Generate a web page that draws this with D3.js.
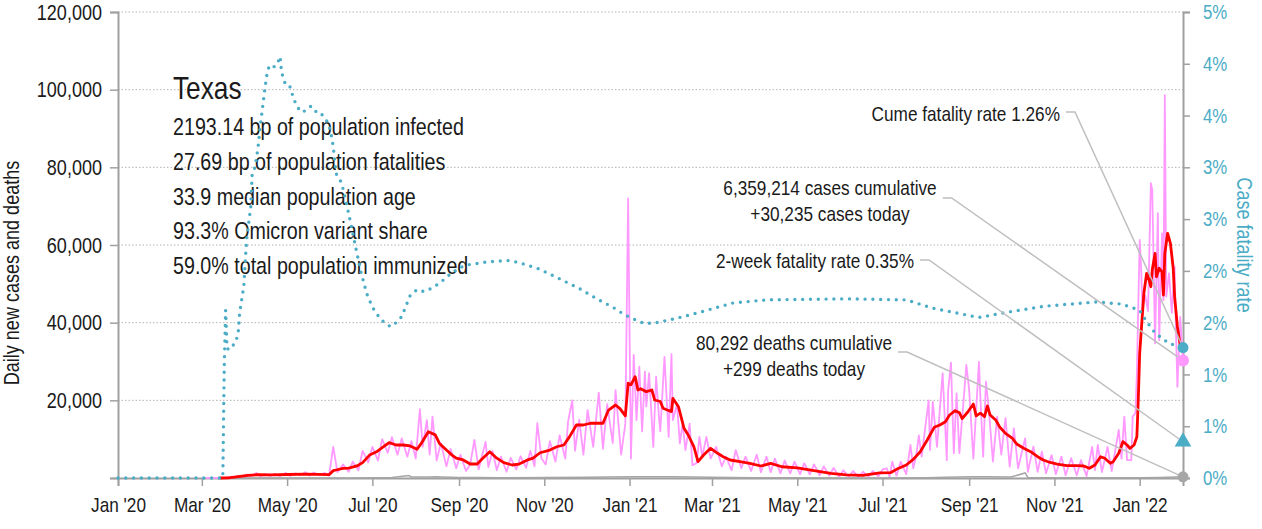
<!DOCTYPE html>
<html>
<head>
<meta charset="utf-8">
<script src="https://cdn.jsdelivr.net/npm/d3@7"></script>
<style>
  body { margin: 0; background: #fff; }
  svg text { font-family: "Liberation Sans", Arial, sans-serif; fill: #1a1a1a; }
</style>
</head>
<body>
<svg id="chart" width="1262" height="529"></svg>
<script>
// ---- data ----
const caseTicks = [0, 20000, 40000, 60000, 80000, 100000, 120000];
const rateTicks = [0, 0.5, 1, 1.5, 2, 2.5, 3, 3.5, 4, 4.5];

const stateName = "Texas";
const statLines = [
  "2193.14 bp of population infected",
  "27.69 bp of population fatalities",
  "33.9 median population age",
  "93.3% Omicron variant share",
  "59.0% total population immunized",
];

// daily new cases (pink)
const dailyCases = [
  ["2020-03-04",0],["2020-03-10",10],["2020-03-14",20],["2020-03-18",60],["2020-03-21",200],
  ["2020-03-24",150],["2020-03-27",500],["2020-03-30",350],["2020-04-02",900],["2020-04-05",500],
  ["2020-04-09",1300],["2020-04-12",450],["2020-04-15",1000],["2020-04-19",550],["2020-04-22",1100],
  ["2020-04-26",500],["2020-04-30",1300],["2020-05-03",550],["2020-05-07",1200],["2020-05-10",700],
  ["2020-05-14",1500],["2020-05-17",600],["2020-05-20",1400],["2020-05-24",700],["2020-05-28",1300],
  ["2020-05-31",600],["2020-06-03",8000],["2020-06-06",1500],["2020-06-10",3500],["2020-06-14",1600],
  ["2020-06-17",4200],["2020-06-21",2000],["2020-06-24",7000],["2020-06-28",4000],["2020-07-01",8000],
  ["2020-07-05",4500],["2020-07-08",10000],["2020-07-12",6500],["2020-07-15",10500],["2020-07-19",6000],
  ["2020-07-22",10200],["2020-07-26",5500],["2020-07-29",9500],["2020-08-01",5000],["2020-08-04",17700],
  ["2020-08-06",8000],["2020-08-09",14900],["2020-08-11",6000],["2020-08-13",15800],["2020-08-16",4500],
  ["2020-08-19",9000],["2020-08-23",3000],["2020-08-26",7500],["2020-08-30",2500],["2020-09-02",6000],
  ["2020-09-06",1800],["2020-09-09",3500],["2020-09-12",9800],["2020-09-15",2200],["2020-09-20",9300],
  ["2020-09-22",2800],["2020-09-25",7000],["2020-09-28",2000],["2020-10-01",5500],["2020-10-05",1600],
  ["2020-10-08",5200],["2020-10-12",2200],["2020-10-15",5600],["2020-10-19",2600],["2020-10-22",7000],
  ["2020-10-25",3000],["2020-10-27",14100],["2020-10-30",5000],["2020-11-02",3500],["2020-11-05",9500],
  ["2020-11-09",4200],["2020-11-12",11000],["2020-11-16",5000],["2020-11-18",14500],["2020-11-21",20000],
  ["2020-11-23",7000],["2020-11-26",15000],["2020-11-29",6000],["2020-12-02",17500],["2020-12-06",8000],
  ["2020-12-10",22000],["2020-12-13",7500],["2020-12-16",19000],["2020-12-20",9000],["2020-12-22",22600],
  ["2020-12-26",6000],["2020-12-29",14000],["2020-12-31",72000],["2021-01-02",5000],["2021-01-04",31700],
  ["2021-01-06",14900],["2021-01-08",28700],["2021-01-10",12000],["2021-01-12",27400],["2021-01-13",18400],
  ["2021-01-15",27000],["2021-01-18",8000],["2021-01-20",26100],["2021-01-22",16000],["2021-01-23",12000],
  ["2021-01-26",31200],["2021-01-29",10600],["2021-01-31",31900],["2021-02-01",14900],["2021-02-04",19000],
  ["2021-02-06",8900],["2021-02-08",14100],["2021-02-10",7200],["2021-02-13",14000],["2021-02-15",3300],
  ["2021-02-18",3800],["2021-02-20",10600],["2021-02-22",5500],["2021-02-25",10600],["2021-02-28",5000],
  ["2021-03-04",8000],["2021-03-08",3000],["2021-03-11",5500],["2021-03-15",2000],["2021-03-18",7200],
  ["2021-03-22",2500],["2021-03-25",5500],["2021-03-29",1800],["2021-04-02",6000],["2021-04-05",1500],
  ["2021-04-09",5500],["2021-04-12",1500],["2021-04-15",5000],["2021-04-19",1200],["2021-04-22",4500],
  ["2021-04-26",1200],["2021-04-29",4200],["2021-05-03",1000],["2021-05-06",3800],["2021-05-10",900],
  ["2021-05-13",3500],["2021-05-17",700],["2021-05-20",3000],["2021-05-24",600],["2021-05-27",2600],
  ["2021-05-31",300],["2021-06-03",2000],["2021-06-07",300],["2021-06-10",1800],["2021-06-14",300],
  ["2021-06-17",1600],["2021-06-21",300],["2021-06-24",1800],["2021-06-28",400],["2021-07-01",2200],
  ["2021-07-04",2500],["2021-07-06",300],["2021-07-08",4200],["2021-07-11",600],["2021-07-14",4200],
  ["2021-07-18",1000],["2021-07-21",8500],["2021-07-23",2500],["2021-07-25",5500],["2021-07-27",11000],
  ["2021-07-29",5500],["2021-08-03",20000],["2021-08-04",7200],["2021-08-06",19600],["2021-08-09",8000],
  ["2021-08-13",27000],["2021-08-16",4600],["2021-08-17",22700],["2021-08-19",29700],["2021-08-21",6400],
  ["2021-08-23",21800],["2021-08-25",6400],["2021-08-30",29100],["2021-09-01",22700],["2021-09-04",5000],
  ["2021-09-08",29900],["2021-09-09",21000],["2021-09-11",5500],["2021-09-13",24800],["2021-09-15",18000],
  ["2021-09-18",4200],["2021-09-21",15800],["2021-09-24",6000],["2021-09-27",15400],["2021-09-30",2900],
  ["2021-10-03",12800],["2021-10-06",2500],["2021-10-11",10200],["2021-10-13",1600],["2021-10-17",8100],
  ["2021-10-20",1600],["2021-10-23",6800],["2021-10-26",1200],["2021-10-30",5900],["2021-11-02",1000],
  ["2021-11-06",5500],["2021-11-09",700],["2021-11-13",5100],["2021-11-17",700],["2021-11-20",4600],
  ["2021-11-24",500],["2021-11-28",8000],["2021-11-30",2000],["2021-12-02",8500],["2021-12-05",1500],
  ["2021-12-09",8000],["2021-12-12",1800],["2021-12-16",10200],["2021-12-17",12400],["2021-12-19",5000],
  ["2021-12-21",15800],["2021-12-23",4600],["2021-12-26",4600],["2021-12-27",15800],["2021-12-29",16700],
  ["2021-12-30",27000],["2022-01-01",61300],["2022-01-02",54400],["2022-01-03",43300],["2022-01-05",47000],
  ["2022-01-07",43000],["2022-01-09",75900],["2022-01-10",74200],["2022-01-12",34700],["2022-01-14",68200],
  ["2022-01-15",35500],["2022-01-17",63000],["2022-01-18",45800],["2022-01-19",98600],["2022-01-20",46700],
  ["2022-01-22",52700],["2022-01-24",42500],["2022-01-26",54400],["2022-01-27",37300],["2022-01-28",23500],
  ["2022-01-30",41500],["2022-02-01",30235],
];

// 7-day average of cases (red)
const avgCases = [
  ["2020-03-14",0],["2020-03-20",40],["2020-03-27",350],["2020-04-03",700],["2020-04-10",850],
  ["2020-04-20",800],["2020-05-01",900],["2020-05-15",1000],["2020-05-31",850],["2020-06-03",1900],
  ["2020-06-05",2060],["2020-06-10",2500],["2020-06-14",2550],["2020-06-20",3100],["2020-06-24",3950],
  ["2020-06-29",5900],["2020-07-04",6750],["2020-07-09",8050],["2020-07-13",9100],["2020-07-18",8500],
  ["2020-07-23",8500],["2020-07-28",8250],["2020-08-02",7400],["2020-08-05",8900],["2020-08-10",11900],
  ["2020-08-15",11100],["2020-08-18",8900],["2020-08-23",7200],["2020-08-27",5900],["2020-08-30",5100],
  ["2020-09-04",4650],["2020-09-09",3600],["2020-09-14",3600],["2020-09-18",5100],["2020-09-23",6750],
  ["2020-09-28",5100],["2020-10-03",3950],["2020-10-09",3350],["2020-10-14",3600],["2020-10-20",4650],
  ["2020-10-24",5100],["2020-10-29",6500],["2020-11-05",7200],["2020-11-10",8050],["2020-11-15",8500],
  ["2020-11-19",10600],["2020-11-24",13650],["2020-11-29",13650],["2020-12-04",14100],["2020-12-08",14100],
  ["2020-12-13",14100],["2020-12-17",17500],["2020-12-22",18800],["2020-12-25",17950],["2020-12-29",16000],
  ["2020-12-31",24400],["2021-01-02",24000],["2021-01-05",26100],["2021-01-07",22660],["2021-01-09",23000],
  ["2021-01-13",22230],["2021-01-17",22660],["2021-01-19",20085],["2021-01-23",19700],["2021-01-25",17950],
  ["2021-01-28",17500],["2021-01-31",17100],["2021-02-01",20520],["2021-02-05",18360],["2021-02-09",12800],
  ["2021-02-12",11070],["2021-02-16",8060],["2021-02-19",4200],["2021-02-23",5920],["2021-02-28",7650],
  ["2021-03-05",6360],["2021-03-09",5490],["2021-03-14",4635],["2021-03-21",4200],["2021-03-28",3785],
  ["2021-04-05",3090],["2021-04-12",3785],["2021-04-20",2900],["2021-05-01",2600],["2021-05-13",1900],
  ["2021-05-25",1200],["2021-06-05",800],["2021-06-17",700],["2021-06-29",1300],["2021-07-07",1400],
  ["2021-07-11",2230],["2021-07-18",3350],["2021-07-23",4800],["2021-07-28",6770],["2021-08-02",9785],
  ["2021-08-07",13050],["2021-08-11",13650],["2021-08-15",14500],["2021-08-18",16220],["2021-08-22",17340],
  ["2021-08-25",16820],["2021-08-27",15300],["2021-08-31",17000],["2021-09-04",19050],["2021-09-06",16000],
  ["2021-09-09",16700],["2021-09-12",15800],["2021-09-14",18540],["2021-09-16",16220],["2021-09-20",14935],
  ["2021-09-23",13050],["2021-09-27",11500],["2021-10-02",10200],["2021-10-05",8755],["2021-10-10",7650],
  ["2021-10-15",6770],["2021-10-20",5490],["2021-10-24",4635],["2021-10-29",4000],["2021-11-03",3600],
  ["2021-11-10",3170],["2021-11-17",3170],["2021-11-22",3090],["2021-11-26",2500],["2021-11-30",3350],
  ["2021-12-04",5490],["2021-12-07",5070],["2021-12-11",3785],["2021-12-13",4200],["2021-12-17",6360],
  ["2021-12-20",9350],["2021-12-23",8500],["2021-12-25",7650],["2021-12-28",8500],["2021-12-30",10630],
  ["2021-12-31",20085],["2022-01-01",32110],["2022-01-03",42400],["2022-01-04",47560],["2022-01-06",52710],
  ["2022-01-07",51830],["2022-01-09",49260],["2022-01-10",53560],["2022-01-12",57860],["2022-01-13",51830],
  ["2022-01-15",54000],["2022-01-17",53100],["2022-01-18",47120],["2022-01-19",57860],["2022-01-21",63010],
  ["2022-01-23",60440],["2022-01-25",54000],["2022-01-26",46690],["2022-01-28",38960],["2022-01-30",34250],
  ["2022-02-01",33500],
];

// daily deaths (grey, hugs the baseline)
const dailyDeaths = [
  ["2020-03-15",0],["2020-04-15",30],["2020-05-15",30],["2020-06-15",30],["2020-07-01",50],
  ["2020-07-15",150],["2020-07-27",650],["2020-07-29",250],["2020-08-10",250],["2020-08-15",300],
  ["2020-09-01",150],["2020-09-15",100],["2020-10-01",80],["2020-11-01",100],["2020-12-01",200],
  ["2020-12-15",250],["2021-01-01",300],["2021-01-15",350],["2021-02-01",350],["2021-02-15",250],
  ["2021-03-01",200],["2021-03-15",150],["2021-04-01",80],["2021-05-01",50],["2021-06-01",30],
  ["2021-07-01",30],["2021-08-01",80],["2021-08-15",200],["2021-09-01",300],["2021-09-15",350],
  ["2021-10-01",250],["2021-10-11",1300],["2021-10-13",150],["2021-11-01",80],["2021-12-01",60],
  ["2022-01-01",50],["2022-01-15",150],["2022-02-01",299],
];

// cumulative case fatality rate, % (teal dotted, right axis)
const fatalityRate = [
  ["2020-01-01",0],["2020-03-16",0],["2020-03-17",1.06],["2020-03-18",1.62],["2020-03-19",1.25],
  ["2020-03-21",1.24],["2020-03-23",1.28],["2020-03-25",1.30],["2020-03-27",1.40],["2020-03-28",1.59],
  ["2020-03-31",1.85],["2020-04-02",2.30],["2020-04-05",2.62],["2020-04-06",2.94],["2020-04-08",3.00],
  ["2020-04-10",3.17],["2020-04-12",3.42],["2020-04-15",3.75],["2020-04-17",3.94],["2020-04-19",3.99],
  ["2020-04-22",3.97],["2020-04-24",4.00],["2020-04-26",4.07],["2020-04-27",3.92],["2020-04-30",3.79],
  ["2020-05-03",3.78],["2020-05-06",3.65],["2020-05-09",3.57],["2020-05-12",3.53],["2020-05-16",3.57],
  ["2020-05-18",3.59],["2020-05-21",3.54],["2020-05-24",3.54],["2020-05-29",3.46],["2020-06-01",3.36],
  ["2020-06-03",3.20],["2020-06-05",2.94],["2020-06-09",2.85],["2020-06-12",2.68],["2020-06-16",2.43],
  ["2020-06-19",2.23],["2020-06-23",1.98],["2020-06-27",1.78],["2020-07-01",1.65],["2020-07-07",1.53],
  ["2020-07-14",1.46],["2020-07-19",1.51],["2020-07-22",1.56],["2020-07-28",1.76],["2020-08-02",1.82],
  ["2020-08-07",1.80],["2020-08-12",1.83],["2020-08-18",1.88],["2020-08-25",1.96],["2020-09-01",2.03],
  ["2020-09-08",2.06],["2020-09-23",2.09],["2020-10-07",2.10],["2020-10-14",2.08],["2020-10-28",2.02],
  ["2020-11-11",1.93],["2020-11-26",1.83],["2020-12-10",1.72],["2020-12-20",1.65],["2020-12-28",1.58],
  ["2021-01-03",1.54],["2021-01-12",1.49],["2021-01-20",1.50],["2021-02-03",1.54],["2021-02-20",1.60],
  ["2021-03-16",1.69],["2021-04-09",1.72],["2021-06-05",1.73],["2021-07-18",1.72],["2021-08-06",1.64],
  ["2021-09-08",1.55],["2021-10-02",1.61],["2021-10-26",1.66],["2021-12-01",1.70],["2021-12-19",1.68],
  ["2022-01-01",1.62],["2022-01-05",1.53],["2022-01-12",1.40],["2022-01-22",1.30],["2022-02-01",1.26],
];

// latest-day values and their callouts
const lastDay = "2022-02-01";
const callouts = [
  { key: "cume",    axis: "rate",  value: 1.26,  lines: ["Cume fatality rate 1.26%"],
    anchor: "end", tx: 1060, ty: 121, leadDy: -9, color: "#4bacc6", shape: "circle" },
  { key: "cases",   axis: "cases", value: 30235, lines: ["6,359,214 cases cumulative", "+30,235 cases today"],
    anchor: "middle", tx: 830, ty: 195, leadDy: 3, color: "#ff99ff", shape: "circle" },
  { key: "twoWeek", axis: "rate",  value: 0.35,  lines: ["2-week fatality rate 0.35%"],
    anchor: "end", tx: 914, ty: 268, leadDy: -8, color: "#4bacc6", shape: "triangle" },
  { key: "deaths",  axis: "cases", value: 299,   lines: ["80,292 deaths cumulative", "+299 deaths today"],
    anchor: "middle", tx: 794, ty: 350, leadDy: 2, color: "#a6a6a6", shape: "circle" },
];

// ---- chart ----
const plotLeft = 118, plotRight = 1183, plotTop = 12, plotBottom = 478;
const squeeze = 0.82; // narrow typeface look
const parse = d3.timeParse("%Y-%m-%d");
const toPts = arr => arr.map(([d, v]) => ({ date: parse(d), value: v }));

// move x/y into a transform so the glyphs can be squeezed horizontally
function narrow(sel, extra = "") {
  sel.each(function () {
    const t = d3.select(this);
    const tx = +t.attr("x") || 0, ty = +t.attr("y") || 0;
    t.attr("x", null).attr("y", null)
      .attr("transform", `translate(${tx},${ty}) ${extra} scale(${squeeze},1)`);
  });
}

const svg = d3.select("#chart");

const x = d3.scaleTime()
  .domain([parse("2020-01-01"), parse(lastDay)])
  .range([plotLeft, plotRight]);
const yCases = d3.scaleLinear().domain([0, 120000]).range([plotBottom, plotTop]);
const yRate = d3.scaleLinear().domain([0, 4.5]).range([plotBottom, plotTop]);

// grid
svg.append("g")
  .selectAll("line")
  .data(caseTicks.filter(d => d > 0))
  .join("line")
  .attr("x1", plotLeft).attr("x2", plotRight)
  .attr("y1", d => yCases(d)).attr("y2", d => yCases(d))
  .attr("stroke", "#b3b3b3")
  .attr("stroke-width", 1)
  .attr("stroke-dasharray", "1.5,2");

// axes
const axisColor = "#a0a0a0";
function styleAxis(g, size) {
  g.select(".domain").attr("stroke", axisColor).attr("stroke-width", 2);
  g.selectAll(".tick line").attr("stroke", axisColor).attr("stroke-width", 1.5);
  g.selectAll(".tick text").attr("font-size", size).attr("font-family", null).call(narrow);
}

const gLeft = svg.append("g")
  .attr("transform", `translate(${plotLeft},0)`)
  .call(d3.axisLeft(yCases).tickValues(caseTicks).tickSizeOuter(0).tickSize(8).tickPadding(8)
    .tickFormat(d => d ? d3.format(",")(d) : ""));
styleAxis(gLeft, 22);

const gBottom = svg.append("g")
  .attr("transform", `translate(0,${plotBottom})`)
  .call(d3.axisBottom(x).ticks(d3.timeMonth.every(2)).tickSizeOuter(0).tickSize(8).tickPadding(11)
    .tickFormat(d3.timeFormat("%b '%y")));
styleAxis(gBottom, 21);

const gRight = svg.append("g")
  .attr("transform", `translate(${plotRight},0)`)
  .call(d3.axisRight(yRate).tickValues(rateTicks).tickSizeOuter(0).tickSize(7).tickPadding(13)
    .tickFormat(d => Math.round(d) + "%"));
styleAxis(gRight, 20.5);
gRight.selectAll(".tick text").style("fill", "#4bacc6");

svg.append("text")
  .attr("transform", `translate(19,${(plotTop + plotBottom) / 2 + 28}) rotate(-90) scale(${squeeze},1)`)
  .attr("text-anchor", "middle")
  .attr("font-size", 22)
  .text("Daily new cases and deaths");

svg.append("text")
  .attr("transform", `translate(1237,${(plotTop + plotBottom) / 2}) rotate(90) scale(${squeeze},1)`)
  .attr("text-anchor", "middle")
  .attr("font-size", 22)
  .style("fill", "#4bacc6")
  .text("Case fatality rate");

// state summary
svg.append("text")
  .attr("x", 173).attr("y", 99)
  .attr("font-size", 32)
  .text(stateName)
  .call(narrow);
svg.append("g")
  .selectAll("text")
  .data(statLines)
  .join("text")
  .attr("x", 173)
  .attr("y", (d, i) => 135 + i * 34.8)
  .attr("font-size", 24)
  .text(d => d)
  .call(narrow);

// series
const caseLine = d3.line().x(d => x(d.date)).y(d => yCases(d.value));
const rateLine = d3.line().x(d => x(d.date)).y(d => yRate(d.value));

svg.append("path")
  .datum(toPts(dailyCases))
  .attr("d", caseLine)
  .attr("fill", "none")
  .attr("stroke", "#ff99ff")
  .attr("stroke-width", 1.8)
  .attr("stroke-linejoin", "round");

svg.append("path")
  .datum(toPts(dailyDeaths))
  .attr("d", caseLine)
  .attr("fill", "none")
  .attr("stroke", "#a6a6a6")
  .attr("stroke-width", 1.5);

svg.append("path")
  .datum(toPts(avgCases))
  .attr("d", caseLine)
  .attr("fill", "none")
  .attr("stroke", "#ff0000")
  .attr("stroke-width", 2.8)
  .attr("stroke-linejoin", "round");

svg.append("path")
  .datum(toPts(fatalityRate))
  .attr("d", rateLine)
  .attr("fill", "none")
  .attr("stroke", "#4bacc6")
  .attr("stroke-width", 3.4)
  .attr("stroke-linecap", "round")
  .attr("stroke-dasharray", "0,7.8");

// callouts + end markers
const xEnd = x(parse(lastDay));
const gCall = svg.append("g");
callouts.forEach(c => {
  const yEnd = c.axis === "rate" ? yRate(c.value) : yCases(c.value);
  const t = gCall.append("text")
    .attr("transform", `translate(${c.tx},${c.ty}) scale(${squeeze},1)`)
    .attr("text-anchor", c.anchor)
    .attr("font-size", 21);
  c.lines.forEach((line, i) => {
    t.append("tspan").attr("x", 0).attr("dy", i ? 26 : 0).text(line);
  });
  const w = t.select("tspan").node().getComputedTextLength() * squeeze;
  const xr = c.anchor === "end" ? c.tx : c.tx + w / 2;
  const ly = c.ty + c.leadDy;
  gCall.append("polyline")
    .attr("points", [[xr + 6, ly], [xr + 15, ly], [xEnd, yEnd]].map(p => p.join(",")).join(" "))
    .attr("fill", "none")
    .attr("stroke", "#bfbfbf")
    .attr("stroke-width", 1.5);
  c.yEnd = yEnd;
});
callouts.forEach(c => {
  if (c.shape === "triangle") {
    gCall.append("path")
      .attr("d", d3.symbol(d3.symbolTriangle, 120)())
      .attr("transform", `translate(${xEnd},${c.yEnd})`)
      .attr("fill", c.color);
  } else {
    gCall.append("circle")
      .attr("cx", xEnd).attr("cy", c.yEnd)
      .attr("r", c.key === "cases" ? 6 : 5.5)
      .attr("fill", c.color);
  }
});
</script>
</body>
</html>
